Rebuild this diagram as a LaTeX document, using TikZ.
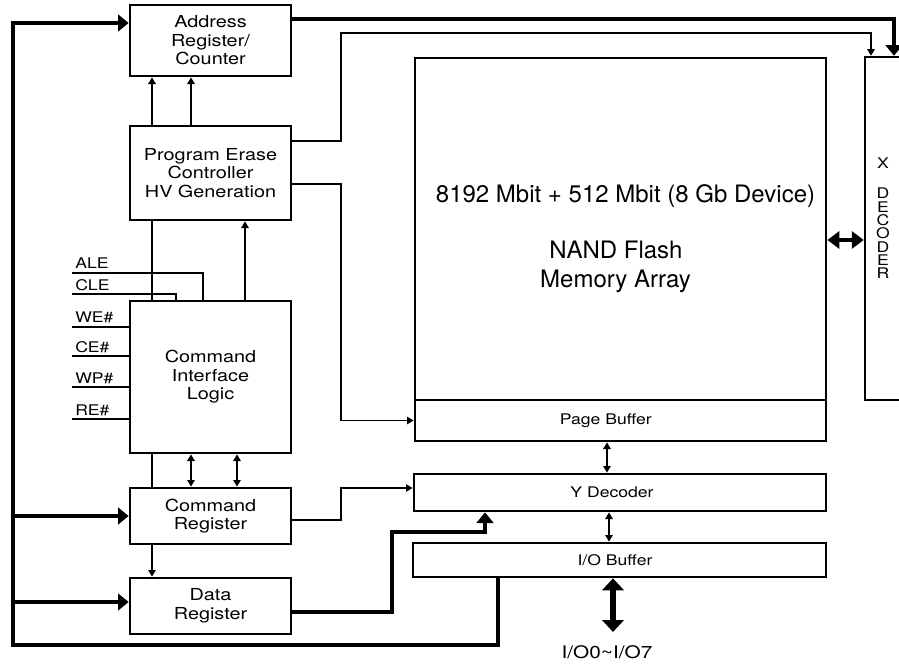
\documentclass[tikz,border=0pt]{standalone}
\usepackage{fontspec}
\setmainfont{TeX Gyre Heros}[FakeStretch=1.2]
\newfontfamily\arrayfont{TeX Gyre Heros}
\usetikzlibrary{arrows.meta,positioning}

\begin{document}
\begin{tikzpicture}[x=0.75pt,y=-0.75pt,
  blk/.style={draw,line width=2pt,inner sep=0pt,align=center,
    font=\fontsize{12.4}{13.9}\selectfont},
  small/.style={font=\fontsize{11}{13}\selectfont},
  sig/.style={font=\fontsize{11}{13}\selectfont,inner sep=0pt},
  wire/.style={line width=1.3pt},
  bus/.style={line width=3.6pt},
  wa/.style={-{Triangle[length=5pt,width=5.5pt]}},
  wd/.style={{Triangle[length=5pt,width=5.5pt]}-{Triangle[length=5pt,width=5.5pt]}},
  ba/.style={-{Triangle[length=8pt,width=12.5pt]}},
  bd/.style={{Triangle[length=9pt,width=12.75pt]}-{Triangle[length=9pt,width=12.75pt]}}]
\useasboundingbox (0,0) rectangle (899,668);
\clip (0,0) rectangle (899,668);

% left column
\node[blk,minimum width=120.75pt,minimum height=53.25pt] (addr) at (210.5,40.5) {Address\\Register/\\Counter};
\node[blk,minimum width=120.75pt,minimum height=70.5pt] (pec) at (210.5,173) {Program Erase\\Controller\hspace*{12pt}\\HV Generation};
\node[blk,minimum width=120.75pt,minimum height=114pt] (cil) at (210.5,377) {Command\\Interface\\Logic};
\node[blk,minimum width=120.75pt,minimum height=42pt] (creg) at (210.5,516) {Command\\Register};
\node[blk,minimum width=120.75pt,minimum height=42pt] (dreg) at (210.5,606) {Data\\Register};

% array and buffers
\node[blk,minimum width=308.25pt,minimum height=256.5pt] (array) at (620.5,229) {};
\node[font=\arrayfont\fontsize{18}{21.75}\selectfont,anchor=base] (size) at (625.5,202) {8192 Mbit + 512 Mbit (8 Gb Device)};
\node[font=\arrayfont\fontsize{18}{21.75}\selectfont,anchor=base] (nand) at (616,258) {NAND Flash};
\node[font=\arrayfont\fontsize{18}{21.75}\selectfont,anchor=base] (memarr) at (615.5,287) {Memory Array};
\node[blk,minimum width=308.25pt,minimum height=30.75pt,label={[small,xshift=-11pt]center:Page Buffer}] (pbuf) at (620.5,420.5) {};
\node[blk,minimum width=309pt,minimum height=27.75pt,label={[small,xshift=-6pt]center:Y Decoder}] (ydec) at (620,492.5) {};
\node[blk,minimum width=309.75pt,minimum height=25.5pt,label={[small,xshift=-3.4pt]center:I/O Buffer}] (iobuf) at (619.5,560) {};
\node[draw,line width=1.8pt,minimum width=60pt,minimum height=257.25pt] (xdec) at (905,228.5) {};
\node[sig] (xlet) at (883,163) {X};
\node[sig,align=center,font=\fontsize{11}{10}\selectfont] (declet) at (883,233.5) {D\\E\\C\\O\\D\\E\\R};
\node[font=\fontsize{13}{15}\selectfont,anchor=base] (io) at (607,658) {I/O0\textasciitilde I/O7};

% control inputs
\coordinate (ale) at (72,273);
\coordinate (cle) at (72,294);
\coordinate (we) at (72,327);
\coordinate (ce) at (72,356);
\coordinate (wp) at (72,387);
\coordinate (re) at (72,419);
\node[sig,anchor=base west] (alet) at (75,268) {ALE};
\node[sig,anchor=base west] (clet) at (75,290) {CLE};
\node[sig,anchor=base west] (wet) at (75,322) {WE\#};
\node[sig,anchor=base west] (cet) at (75,352) {CE\#};
\node[sig,anchor=base west] (wpt) at (75,383) {WP\#};
\node[sig,anchor=base west] (ret) at (75,415) {RE\#};
\draw[wire] (ale) -| (cil.north -| 203,0);
\draw[wire] (cle) -| (cil.north -| 176,0);
\draw[wire] (we) -- (cil.west |- we);
\draw[wire] (ce) -- (cil.west |- ce);
\draw[wire] (wp) -- (cil.west |- wp);
\draw[wire] (re) -- (cil.west |- re);

% thin connections
\coordinate (lanea) at (152,100);
\coordinate (laneb) at (191,100);
\coordinate (lanec) at (245,260);
\coordinate (laned) at (237,470);
\draw[wire,wa] (pec.north -| lanea) -- (addr.south -| lanea);
\draw[wire,wa] (pec.north -| laneb) -- (addr.south -| laneb);
\draw[wire] (pec.south -| lanea) -- (cil.north -| lanea);
\draw[wire,wa] (cil.north -| lanec) -- (pec.south -| lanec);
\draw[wire] (cil.south -| lanea) -- (creg.north -| lanea);
\draw[wire,wd] (cil.south -| laneb) -- (creg.north -| laneb);
\draw[wire,wd] (cil.south -| laned) -- (creg.north -| laned);
\draw[wire,wa] (creg.south -| lanea) -- (dreg.north -| lanea);

\coordinate (pecbend) at (341,33);
\coordinate (xwire) at (871,33);
\draw[wire,wa] ([yshift=-12pt]pec.north east) -| (pecbend) -- (xwire) -- (xdec.north -| xwire);
\draw[wire,wa] ([yshift=-8.25pt]pec.east) -| (pbuf.west -| pecbend) -- (pbuf.west);
\coordinate (crbend) at (341,488);
\draw[wire,wa] ([yshift=-3pt]creg.east) -| (crbend) -- (ydec.west |- crbend);
\coordinate (lanee) at (607,455);
\coordinate (lanef) at (609,527);
\draw[wire,wd] (pbuf.south -| lanee) -- (ydec.north -| lanee);
\draw[wire,wd] (ydec.south -| lanef) -- (iobuf.north -| lanef);

% buses
\coordinate (bustop) at (13,23);
\coordinate (busbot) at (498,645);
\draw[bus,ba] (iobuf.south -| busbot) -- (busbot) -| (bustop) -- (addr.west |- bustop);
\draw[bus,ba] (bustop |- creg.west) -- (creg.west);
\draw[bus,ba] (bustop |- 0,602) -- (dreg.west |- 0,602);
\coordinate (xbus) at (894,19);
\draw[bus,ba] (addr.east |- xbus) -| (xdec.north -| xbus);
\coordinate (drbend) at (392,532);
\coordinate (ydin) at (485,532);
\draw[bus,ba] ([yshift=-4.5pt]dreg.east) -| (drbend) -- (ydin) -- (ydec.south -| ydin);
\coordinate (axd) at (845,240);
\draw[bus,bd] (array.east |- axd) -- (xdec.west |- axd);
\coordinate (iotip) at (613,632);
\draw[bus,line width=4.5pt,{Triangle[length=9pt,width=16pt]}-{Triangle[length=9pt,width=16pt]}] (iobuf.south -| iotip) -- (iotip);
\end{tikzpicture}
\end{document}
